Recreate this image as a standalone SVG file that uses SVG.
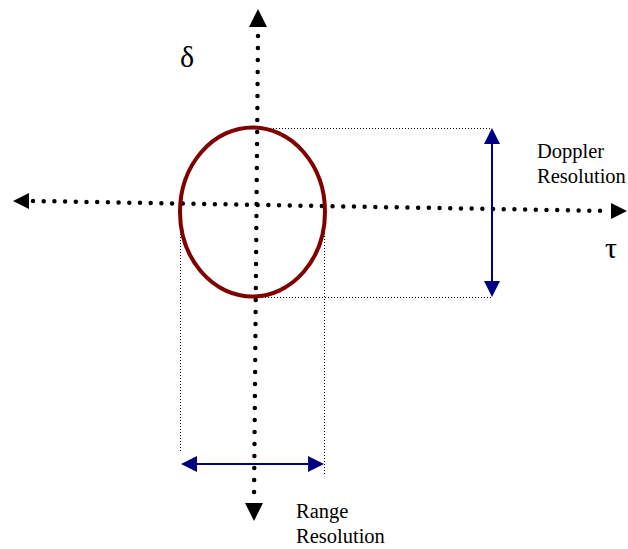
<svg xmlns="http://www.w3.org/2000/svg" width="628" height="549" viewBox="0 0 628 549">
<style>
.axis{stroke:#000;stroke-width:4.5;stroke-linecap:round;fill:none}
.guide{stroke:#000;stroke-width:1;stroke-dasharray:1 2;fill:none}
.res{stroke:#000080;stroke-width:2;fill:none}
.head{fill:#000}
.nhead{fill:#000080}
.lbl{font-family:"Liberation Serif","Times New Roman",serif;font-size:20.5px;fill:#000}
.sym{font-family:"Liberation Serif","DejaVu Serif",serif;font-size:30px;fill:#000}
</style>
<g id="connectors">
  <line class="guide" x1="258" y1="128.5" x2="492" y2="128.5"/>
  <line class="guide" x1="256" y1="297.5" x2="492" y2="297.5"/>
  <line class="guide" x1="180.5" y1="216" x2="180.5" y2="451"/>
  <line class="guide" x1="324.5" y1="218" x2="324.5" y2="476"/>
  <line class="axis" x1="258" y1="36" x2="254" y2="500" stroke-dasharray="0 12"/>
  <polygon class="head" points="258,9 249,27 267,27"/>
  <polygon class="head" points="254,521 245,503 263,503"/>
  <line class="axis" x1="33" y1="201" x2="609" y2="211" stroke-dasharray="0 10.7"/>
  <polygon class="head" points="13,201 29,193 29,209"/>
  <polygon class="head" points="627,211 611,203 611,219"/>
  <line class="res" x1="492" y1="140" x2="492" y2="285"/>
  <polygon class="nhead" points="492,128 484,144 500,144"/>
  <polygon class="nhead" points="492,297 484,281 500,281"/>
  <line class="res" x1="193" y1="464" x2="312" y2="464"/>
  <polygon class="nhead" points="181,464 197,456 197,472"/>
  <polygon class="nhead" points="324,464 308,456 308,472"/>
</g>
<g id="ellipse">
  <ellipse cx="252.5" cy="212" rx="72.5" ry="84.5" fill="none" stroke="#800000" stroke-width="4"/>
</g>
<g id="labels">
  <text class="sym" x="180" y="67">δ</text>
  <text class="sym" x="605" y="258">τ</text>
  <text class="lbl" x="537" y="158">Doppler</text>
  <text class="lbl" x="537" y="183">Resolution</text>
  <text class="lbl" x="296" y="518">Range</text>
  <text class="lbl" x="296" y="543">Resolution</text>
</g>
</svg>
